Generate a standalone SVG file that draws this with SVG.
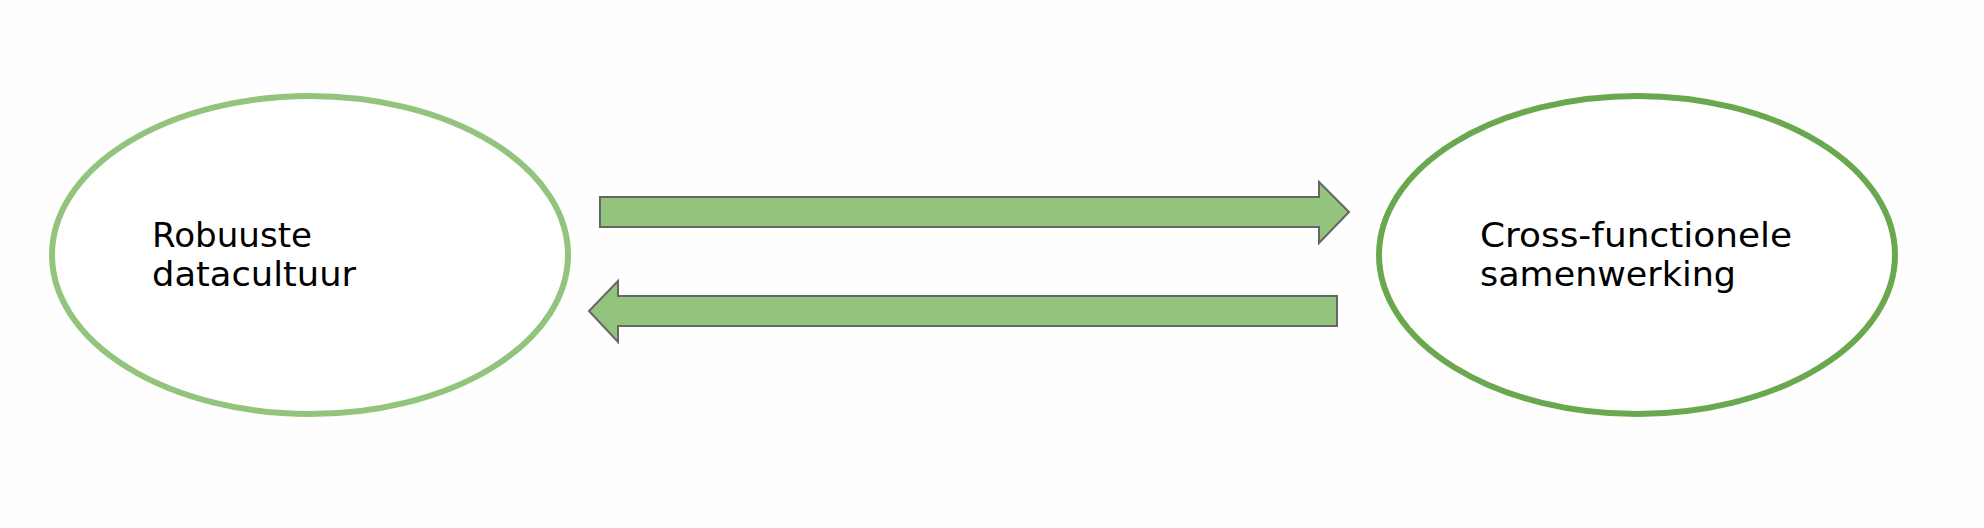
<svg xmlns="http://www.w3.org/2000/svg" width="1984" height="528" viewBox="0 0 1984 528">
  <style>
    .lbl { font-family: "DejaVu Sans", "Open Sans", "Liberation Sans", sans-serif; font-size: 34px; fill: #000000; }
    .arrow { fill: #93c47d; stroke: #666666; stroke-width: 2; stroke-linejoin: miter; }
    .node-shape { fill: #ffffff; stroke-width: 6; }
  </style>
  <rect x="0" y="0" width="1984" height="528" fill="#fefefe"/>
  <g id="connectors">
    <polygon class="arrow" points="600,197 1319,197 1319,182 1349,212 1319,243 1319,227 600,227"/>
    <polygon class="arrow" points="1337,296 618,296 618,281 589,311 618,342 618,326 1337,326"/>
  </g>
  <g id="node-robuuste">
    <ellipse class="node-shape" cx="310" cy="255" rx="258" ry="159" stroke="#93c47d"/>
    <text class="lbl" x="152" y="247" textLength="160" lengthAdjust="spacingAndGlyphs">Robuuste</text>
    <text class="lbl" x="152" y="286" textLength="204" lengthAdjust="spacingAndGlyphs">datacultuur</text>
  </g>
  <g id="node-cross">
    <ellipse class="node-shape" cx="1637" cy="255" rx="258" ry="159" stroke="#6aa84f"/>
    <text class="lbl" x="1480" y="247" textLength="312" lengthAdjust="spacingAndGlyphs">Cross-functionele</text>
    <text class="lbl" x="1480" y="286" textLength="256" lengthAdjust="spacingAndGlyphs">samenwerking</text>
  </g>
</svg>
